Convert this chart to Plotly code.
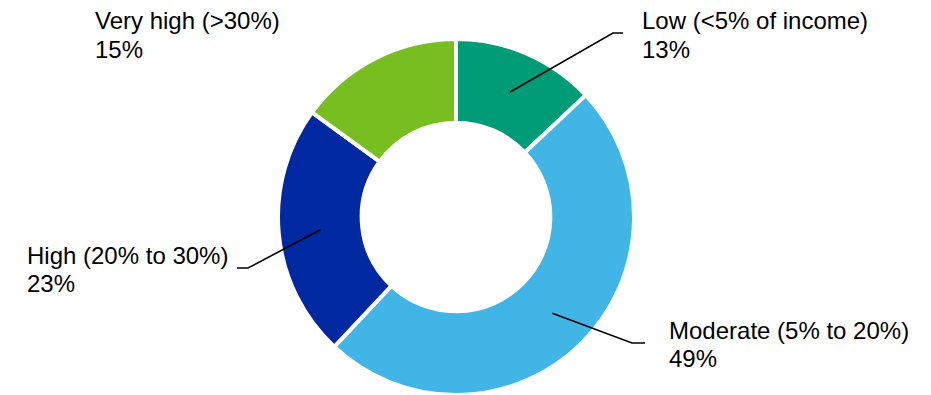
import math
import plotly.graph_objects as go

categories = ["Low (<5% of income)", "Moderate (5% to 20%)", "High (20% to 30%)", "Very high (>30%)"]
values = [13, 49, 23, 15]
colors = ["#009B77", "#41B6E6", "#0028A0", "#78BE20"]

W, H = 931, 395
# pie geometry (pixels)
R_OUT = 178
CX = 456
dom_x = [(CX - R_OUT) / W, (CX + R_OUT) / W]
dom_y = [0, 2 * R_OUT / H]
CY = H - R_OUT  # pixel y from top of center
HOLE = 0.53

# label layout in pixels
label_layout = {
    "Low (<5% of income)": dict(tx=640, y1=21, y2=49, elbow=(613, 33), end=(623, 33)),
    "Moderate (5% to 20%)": dict(tx=667, y1=330, y2=358, elbow=(632, 343), end=(645, 343)),
    "High (20% to 30%)": dict(tx=25, y1=255, y2=283, elbow=(248, 268), end=(237, 268)),
    "Very high (>30%)": dict(tx=93, y1=21, y2=49, elbow=None, end=None),
}

fig = go.Figure()
fig.add_trace(go.Pie(
    labels=categories, values=values, hole=HOLE, sort=False, direction="clockwise",
    rotation=0, textinfo="none", hoverinfo="label+percent",
    marker=dict(colors=colors, line=dict(color="white", width=4)),
    domain=dict(x=dom_x, y=dom_y), showlegend=False,
))

def px(x):
    return x / W

def py(y):
    return 1 - y / H

font = dict(family="Liberation Sans, Arial, sans-serif", size=24, color="black")
annotations = []
shapes = []
total = sum(values)
cum = 0
r_mid = R_OUT * (1 + HOLE) / 2
for cat, v in zip(categories, values):
    mid = (cum + v / 2) / total * 2 * math.pi
    cum += v
    L = label_layout[cat]
    pct = f"{round(v / total * 100)}%"
    annotations.append(dict(x=px(L["tx"]), y=py(L["y1"]), xref="paper", yref="paper",
                            text=cat, showarrow=False, xanchor="left", yanchor="middle", font=font))
    annotations.append(dict(x=px(L["tx"]), y=py(L["y2"]), xref="paper", yref="paper",
                            text=pct, showarrow=False, xanchor="left", yanchor="middle", font=font))
    if L["elbow"] is not None:
        sx = CX + r_mid * math.sin(mid)
        sy = CY - r_mid * math.cos(mid)
        ex, ey = L["elbow"]
        fx, fy = L["end"]
        path = f"M {px(sx)},{py(sy)} L {px(ex)},{py(ey)} L {px(fx)},{py(fy)}"
        shapes.append(dict(type="path", xref="paper", yref="paper", path=path,
                           line=dict(color="black", width=1.6)))

fig.update_layout(
    width=W, height=H, margin=dict(l=0, r=0, t=0, b=0),
    paper_bgcolor="white", plot_bgcolor="white",
    annotations=annotations, shapes=shapes,
)
fig.write_html("out.html")
